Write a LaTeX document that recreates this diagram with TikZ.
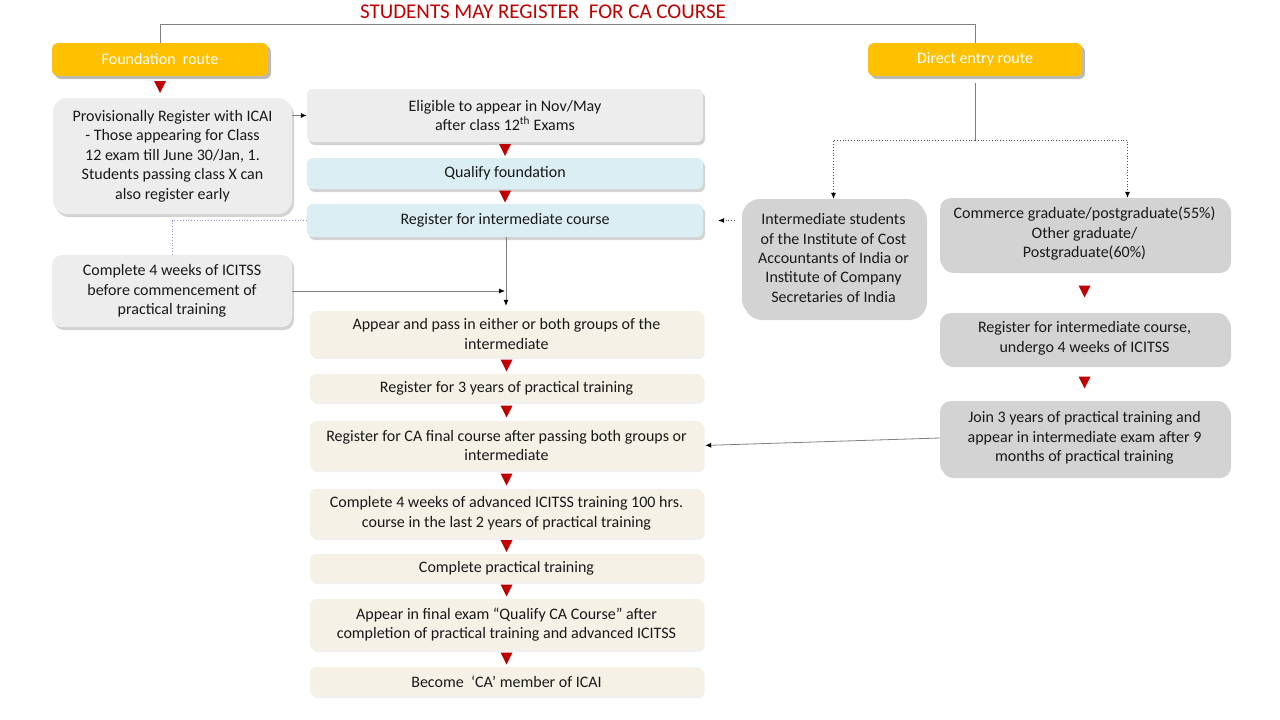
\documentclass[tikz,border=0pt]{standalone}
\usepackage{fontspec}
\setmainfont{Carlito}
\usepackage{tikz}
\usetikzlibrary{shadows,calc,arrows.meta}

\definecolor{cared}{HTML}{C00000}
\definecolor{gold}{HTML}{FFC000}
\definecolor{lgray}{HTML}{EDEDED}
\definecolor{lcyan}{HTML}{DAEEF3}
\definecolor{beige}{HTML}{F5F1E6}
\definecolor{mgray}{HTML}{D3D3D3}
\definecolor{linegray}{HTML}{7F7F7F}

\begin{document}
\begin{tikzpicture}[x=1pt,y=-1pt,
	>={Latex[length=6pt,width=5pt,color=black]},
	box/.style={rounded corners=6pt, align=center, inner sep=2pt, text=black!90,
		font=\fontsize{16}{19.5}\selectfont},
	route/.style={box, fill=gold, text=white, drop shadow={shadow xshift=3pt, shadow yshift=-3pt, opacity=.45, fill=black!60}},
	greybox/.style={box, fill=lgray, drop shadow={shadow xshift=2pt, shadow yshift=-3pt, opacity=.35, fill=black!50}},
	cyanbox/.style={box, fill=lcyan, drop shadow={shadow xshift=2pt, shadow yshift=-3pt, opacity=.35, fill=black!50}},
	beigebox/.style={box, fill=beige, drop shadow={shadow xshift=1.5pt, shadow yshift=-2pt, opacity=.12, fill=black!50}},
	darkbox/.style={box, fill=mgray, rounded corners=11pt, drop shadow={shadow xshift=2pt, shadow yshift=-3pt, opacity=.35, fill=black!50}},
	link/.style={draw=linegray, line width=.8pt},
	dotlink/.style={draw=black!70, line width=.8pt, dotted},
	]
	\useasboundingbox (0,0) rectangle (1280,720);

	\node[text=cared, font=\fontsize{21}{24}\selectfont] (title) at (543,12) {STUDENTS MAY REGISTER\ \ FOR CA COURSE};

	\node[route, minimum width=216pt, minimum height=33pt] (found) at (160,59.5) {Foundation\ \ route};
	\node[route, minimum width=214pt, minimum height=33pt] (direct) at (975,59.5) {Direct entry route};

	\node[greybox, rounded corners=14pt, minimum width=239pt, minimum height=116pt] (prov) at (172.5,156) {Provisionally Register with ICAI\\- Those appearing for Class\\12 exam till June 30/Jan, 1.\\Students\ passing class X can\\also register early};
	\node[greybox, minimum width=396pt, minimum height=53pt] (elig) at (505,115.5) {Eligible to appear\ in Nov/May\\after class 12\textsuperscript{th} Exams};
	\node[cyanbox, minimum width=396pt, minimum height=31pt] (qual) at (505,173.5) {Qualify foundation};
	\node[cyanbox, minimum width=396pt, minimum height=33pt] (regint) at (505,220.5) {Register for intermediate\ course};
	\node[greybox, rounded corners=10pt, minimum width=240pt, minimum height=72pt] (comp4) at (172,291) {Complete 4 weeks of ICITSS\\before commencement\ of\\practical training};

	\node[beigebox, minimum width=393pt, minimum height=46pt] (appear) at (506.5,334) {Appear and pass in either or both groups of the\\intermediate};
	\node[beigebox, minimum width=393pt, minimum height=28pt] (reg3) at (506.5,388) {Register for 3 years of practical training};
	\node[beigebox, minimum width=393pt, minimum height=49pt] (regfin) at (506.5,445.5) {Register for CA final course after passing both groups or\\intermediate};
	\node[beigebox, minimum width=393pt, minimum height=49pt] (adv) at (506.5,513.5) {Complete\ 4 weeks of advanced ICITSS training 100 hrs.\\course in the\ last 2 years of practical training};
	\node[beigebox, minimum width=393pt, minimum height=28pt] (comppt) at (506.5,568) {Complete\ practical training};
	\node[beigebox, minimum width=393pt, minimum height=51pt] (final) at (506.5,624.5) {Appear\ in final exam ``Qualify CA Course'' after\\completion\ of practical training and advanced ICITSS};
	\node[beigebox, minimum width=393pt, minimum height=29pt] (become) at (506.5,681.5) {Become\ \ `CA' member\ of ICAI};

	\node[darkbox, rounded corners=18pt, minimum width=183pt, minimum height=118pt] (icwai) at (833.5,258) {Intermediate students\\of the Institute of Cost\\Accountants of India or\\Institute of Company\\Secretaries of India};
	\node[darkbox, minimum width=289pt, minimum height=72pt] (comm) at (1084.5,234) {Commerce\ graduate/postgraduate(55\%)\\Other graduate/\\Postgraduate(60\%)};
	\node[darkbox, minimum width=289pt, minimum height=51pt] (rightreg) at (1084.5,338.5) {Register for intermediate\ course,\\undergo\ 4 weeks of ICITSS};
	\node[darkbox, minimum width=289pt, minimum height=74pt] (join) at (1084.5,438) {Join 3 years of practical training and\\appear in intermediate\ exam after 9\\months\ of practical training};

	\coordinate (split) at (975,140);
	\coordinate (drop) at ([xshift=1pt]regint.south);

	\draw [link] (found.north) -- (found.north |- 0,24) -| (direct.north);
	\draw [link, ->] (prov.east |- elig.west) -- (elig.west);
	\draw [link, draw=black!45!blue!40, dotted] (regint.west) -| (comp4.north);
	\draw [link, ->] (comp4.east) -- ([xshift=-1pt]drop |- comp4.east);
	\draw [link, ->, shorten >=5pt] (drop) -- (drop |- appear.north);
	\draw [link] (direct.south) ++(0,7) -- (split);
	\draw [dotlink, ->] (split) -| (icwai.north);
	\draw [dotlink, ->] (split) -| ([xshift=43pt]comm.north);
	\draw [dotlink, ->, shorten <=7pt, shorten >=15pt] (icwai.west |- regint.east) -- (regint.east);
	\draw [link, ->, shorten >=2pt] (join.west) -- (regfin.east);

	\foreach \a/\b in {found/prov, elig/qual, qual/regint, appear/reg3, reg3/regfin, regfin/adv, adv/comppt, comppt/final, final/become, comm/rightreg, rightreg/join}
		\fill[cared] ($(\a.south)!.5!(\a.south |- \b.north)$) ++(-6,-6) -- ++(12,0) -- ++(-6,12) -- cycle;
\end{tikzpicture}
\end{document}
